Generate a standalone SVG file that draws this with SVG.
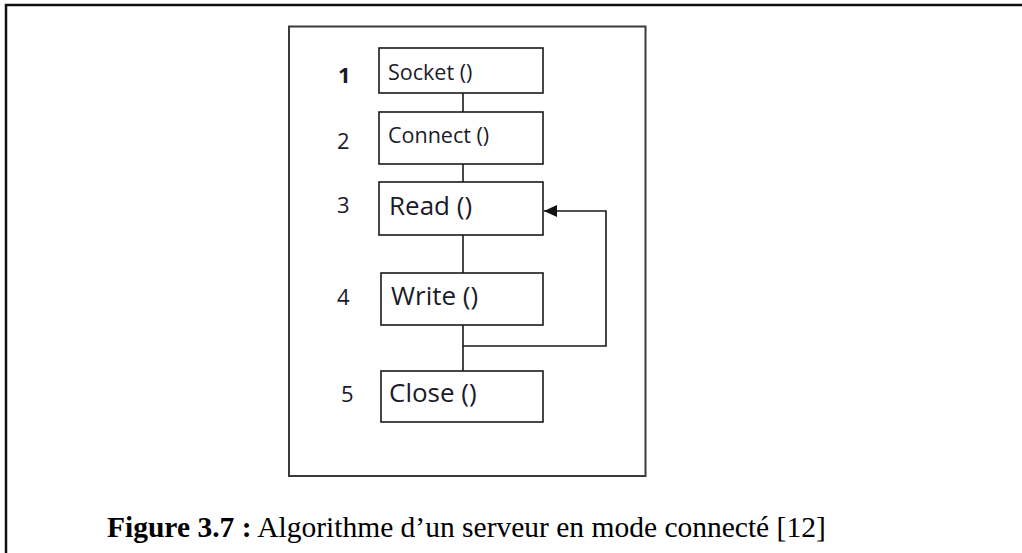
<svg xmlns="http://www.w3.org/2000/svg" width="1022" height="553" viewBox="0 0 1022 553">
  <style>
    .frame { fill: none; stroke: #111; stroke-width: 2.5; }
    .panel { fill: none; stroke: #3a3a3a; stroke-width: 2; }
    .box { fill: #fff; stroke: #1a1a1a; stroke-width: 1.6; }
    .link { fill: none; stroke: #1a1a1a; stroke-width: 1.6; }
    .lbl-s { font-family: "Open Sans", "DejaVu Sans", sans-serif; font-size: 21.5px; fill: #1a1a2a; }
    .lbl-l { font-family: "Open Sans", "DejaVu Sans", sans-serif; font-size: 26px; fill: #1a1a2a; }
    .num { font-family: "Open Sans", "DejaVu Sans", sans-serif; font-size: 22px; fill: #1a1a2a; }
    .cap { font-family: "Liberation Serif", "Times New Roman", serif; font-size: 29.5px; fill: #000; }
  </style>
  <defs>
    <marker id="arrow" markerWidth="14" markerHeight="12" refX="13" refY="6" orient="auto" markerUnits="userSpaceOnUse">
      <path d="M0,0 L13,6 L0,12 Z" fill="#111"/>
    </marker>
  </defs>

  <rect width="1022" height="553" fill="#fff"/>

  <!-- page frame: top and left rules only -->
  <path class="frame" d="M6,553 L6,5 L1022,5"/>

  <!-- figure panel -->
  <rect class="panel" x="289" y="26.5" width="356.5" height="449.5"/>

  <!-- step numbers -->
  <g id="numbers">
    <text class="num" x="338" y="83" font-weight="bold">1</text>
    <text class="num" x="337" y="149">2</text>
    <text class="num" x="337" y="213">3</text>
    <text class="num" x="337" y="305">4</text>
    <text class="num" x="341" y="402">5</text>
  </g>

  <!-- connectors -->
  <g id="connectors">
    <line class="link" x1="463" y1="93" x2="463" y2="112"/>
    <line class="link" x1="463" y1="164" x2="463" y2="182"/>
    <line class="link" x1="463" y1="235" x2="463" y2="273"/>
    <line class="link" x1="463" y1="325" x2="463" y2="371"/>
    <path class="link" d="M463,346 L606,346 L606,211 L544,211" marker-end="url(#arrow)"/>
  </g>

  <g id="socket">
    <rect class="box" x="379" y="48" width="164" height="45"/>
    <text class="lbl-s" x="388" y="80">Socket ()</text>
  </g>
  <g id="connect">
    <rect class="box" x="379" y="112" width="164" height="52"/>
    <text class="lbl-s" x="388" y="143">Connect ()</text>
  </g>
  <g id="read">
    <rect class="box" x="379" y="182" width="164" height="53"/>
    <text class="lbl-l" x="389" y="215">Read ()</text>
  </g>
  <g id="write">
    <rect class="box" x="381" y="273" width="162" height="52"/>
    <text class="lbl-l" x="391" y="305">Write ()</text>
  </g>
  <g id="close">
    <rect class="box" x="381" y="371" width="162" height="51"/>
    <text class="lbl-l" x="389" y="402">Close ()</text>
  </g>

  <!-- caption -->
  <text class="cap" x="107" y="537"><tspan font-weight="bold">Figure 3.7 :</tspan> Algorithme d’un serveur en mode connecté [12]</text>
</svg>
